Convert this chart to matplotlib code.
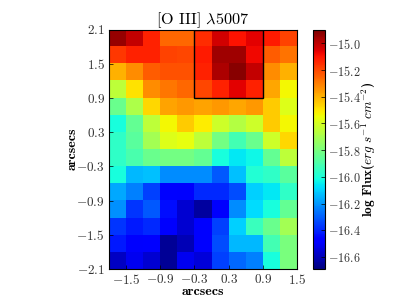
import matplotlib
matplotlib.use('Agg')
import matplotlib.pyplot as plt
import numpy as np
from matplotlib.patches import Rectangle

plt.rcParams['font.family'] = ['cmr10', 'DejaVu Serif']
plt.rcParams['mathtext.fontset'] = 'cm'
plt.rcParams['axes.unicode_minus'] = False

title = r'[O III] $\lambda$5007'
x_ticks = [-1.5, -0.9, -0.3, 0.3, 0.9, 1.5]
y_ticks = [-2.1, -1.5, -0.9, -0.3, 0.3, 0.9, 1.5, 2.1]
cbar_ticks = [-15.0, -15.2, -15.4, -15.6, -15.8, -16.0, -16.2, -16.4, -16.6]

# log flux, top row first
row0 = [-14.94, -15.01, -15.13, -15.26, -15.26, -15.15, -15.03, -15.10, -15.06, -15.11, -15.19]
row1 = [-15.17, -15.13, -15.13, -15.19, -15.20, -15.11, -14.95, -14.95, -15.08, -15.24, -15.28]
row2 = [-15.40, -15.33, -15.24, -15.22, -15.22, -15.13, -14.97, -14.92, -15.01, -15.33, -15.40]
row3 = [-15.65, -15.49, -15.33, -15.29, -15.26, -15.20, -15.13, -15.06, -15.13, -15.38, -15.53]
row4 = [-15.83, -15.69, -15.47, -15.37, -15.35, -15.37, -15.35, -15.38, -15.35, -15.45, -15.58]
row5 = [-16.01, -15.85, -15.65, -15.53, -15.45, -15.51, -15.62, -15.67, -15.62, -15.45, -15.53]
row6 = [-15.96, -15.87, -15.71, -15.58, -15.56, -15.65, -15.81, -15.92, -15.83, -15.62, -15.47]
row7 = [-15.96, -15.90, -15.83, -15.81, -15.81, -15.85, -16.01, -16.06, -16.03, -15.85, -15.65]
row8 = [-16.01, -16.14, -16.13, -16.22, -16.22, -16.22, -16.31, -16.13, -15.99, -15.96, -15.87]
row9 = [-16.17, -16.24, -16.35, -16.46, -16.49, -16.39, -16.39, -16.33, -16.10, -16.06, -15.96]
row10 = [-16.21, -16.37, -16.31, -16.44, -16.56, -16.64, -16.49, -16.22, -16.08, -16.01, -15.85]
row11 = [-16.37, -16.42, -16.39, -16.49, -16.56, -16.46, -16.35, -16.10, -15.94, -15.83, -15.71]
row12 = [-16.42, -16.49, -16.47, -16.65, -16.60, -16.46, -16.33, -16.14, -16.14, -15.92, -15.80]
row13 = [-16.58, -16.51, -16.56, -16.65, -16.51, -16.55, -16.35, -16.28, -16.24, -16.01, -15.80]

flux = np.array([row0, row1, row2, row3, row4, row5, row6, row7,
                 row8, row9, row10, row11, row12, row13])

fig = plt.figure(figsize=(3.99, 2.99), dpi=100)
ax = fig.add_axes([109/399, 1-269/299, 188/399, 239.5/299])
im = ax.imshow(flux, cmap='jet', vmin=-16.69, vmax=-14.90, interpolation='nearest',
               extent=[-1.8, 1.5, -2.1, 2.1], aspect='auto')
ax.add_patch(Rectangle((-0.3, 0.9), 1.2, 1.2, fill=False, edgecolor='k', lw=1))
for s in ax.spines.values():
    s.set_linewidth(0.8)

ax.set_xticks(x_ticks)
ax.set_yticks(y_ticks)
ax.set_xticklabels(['$%.1f$' % t for t in x_ticks])
ax.set_yticklabels(['$%.1f$' % t for t in y_ticks])
ax.tick_params(direction='in', length=3, width=0.5, labelsize=9.5, labelcolor='#333333', pad=3)
ax.set_xlabel('arcsecs', fontsize=10, family='cmb10', labelpad=-1)
ax.set_ylabel('arcsecs', fontsize=10, family='cmb10', labelpad=-1.5)
ax.set_title(title, fontsize=11.7, pad=0)

cax = fig.add_axes([312.5/399, 1-269/299, 12.5/399, 239/299])
cb = fig.colorbar(im, cax=cax)
cb.set_ticks(cbar_ticks)
cb.set_ticklabels(['$%.1f$' % t for t in cbar_ticks])
cb.ax.tick_params(direction='in', length=3, width=0.5, labelsize=8.8, labelcolor='#333333', pad=2)
cb.set_label(r'log Flux($erg\ s^{-1}\ cm^{-2}$)', fontsize=9.5, family='cmb10', labelpad=-1)

plt.savefig('out.png', dpi=100)
